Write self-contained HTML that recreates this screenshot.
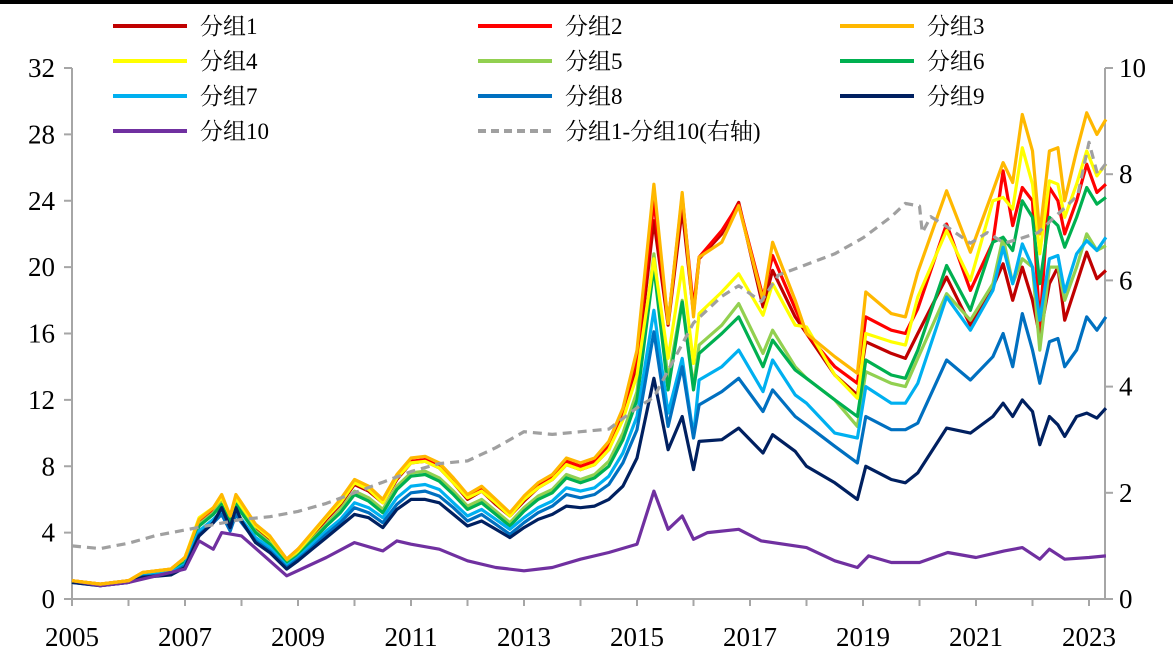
<!DOCTYPE html>
<html><head><meta charset="utf-8">
<style>
html,body{margin:0;padding:0;background:#fff;}
svg{display:block;}
text{font-family:"Liberation Serif","Noto Serif CJK SC",serif;}
</style></head>
<body>
<svg id="chart" width="1173" height="657" viewBox="0 0 1173 657" xmlns="http://www.w3.org/2000/svg">
<rect x="0" y="0" width="1173" height="4" fill="#000"/>
<g id="axes"></g>
<g id="series"></g>
<g id="legend"></g>
</svg>
<script>
const dates = [2005,2005.5,2006,2006.25,2006.75,2007,2007.25,2007.5,2007.65,2007.8,2007.9,2008,2008.25,2008.5,2008.8,2009,2009.25,2009.5,2009.75,2010,2010.25,2010.5,2010.75,2011,2011.25,2011.5,2011.75,2012,2012.25,2012.5,2012.75,2013,2013.25,2013.5,2013.75,2014,2014.25,2014.5,2014.75,2015,2015.3,2015.55,2015.8,2016,2016.1,2016.5,2016.8,2017.23,2017.4,2017.8,2018,2018.5,2018.9,2019.05,2019.5,2019.75,2019.97,2020.48,2020.9,2021.3,2021.48,2021.65,2021.82,2022,2022.13,2022.3,2022.45,2022.57,2022.78,2022.96,2023.14,2023.3];
const group1 = [1.1,0.9,1.1,1.5,1.7,2.4,4.6,5.3,6.0,4.8,6.0,5.5,4.3,3.6,2.3,2.9,3.8,4.8,5.7,6.9,6.5,5.8,7.2,8.2,8.3,7.9,7.0,6.0,6.5,5.7,5.0,5.9,6.7,7.2,8.1,7.8,8.1,9.0,11,14,22.8,16.5,23.5,17.2,20.5,22,23.9,17.6,19.8,17,16,13.5,12.3,15.5,14.8,14.5,16,19.4,16.5,18.8,20.2,18,20,18,15.8,19,20,16.8,19,20.9,19.3,19.8];
const group2 = [1.1,0.9,1.1,1.6,1.8,2.5,4.7,5.4,6.2,4.9,6.2,5.7,4.4,3.7,2.4,3.0,3.9,4.9,5.9,7.0,6.7,5.9,7.4,8.3,8.4,8.0,7.2,6.2,6.7,5.9,5.1,6.1,6.9,7.4,8.3,8.0,8.3,9.3,11.3,14.5,24,16.6,24.3,17.5,20.6,22.2,23.8,18.2,20.7,17.5,16,14,13,17,16.2,16,17.5,22.6,18.6,21.5,25.8,22.5,24.8,24,16.4,24.8,24,22,24,26.2,24.5,25];
const group3 = [1.1,0.9,1.1,1.6,1.8,2.5,4.8,5.5,6.3,5.0,6.3,5.8,4.5,3.8,2.4,3.0,4.0,5.0,6.0,7.2,6.8,6.0,7.5,8.5,8.6,8.2,7.3,6.3,6.8,6.0,5.2,6.2,7.0,7.5,8.5,8.2,8.5,9.5,11.5,15,25,16.6,24.5,17,20.6,21.5,23.7,18,21.5,18,16,14.6,13.6,18.5,17.2,17,19.7,24.6,20.9,24.6,26.3,25.1,29.2,27,22,27,27.2,24,27,29.3,28,28.9];
const group4 = [1.1,0.9,1.1,1.6,1.8,2.5,4.9,5.5,6.1,5.0,6.1,5.6,4.4,3.7,2.4,2.9,3.9,4.9,5.8,7.0,6.6,5.8,7.3,8.2,8.3,7.9,7.0,6.1,6.5,5.8,5.0,6.0,6.7,7.2,8.1,7.8,8.1,9.0,10.8,13.5,20.5,14.5,20,14.2,17.2,18.5,19.6,17.1,19,16.5,16.4,13.5,12.1,16,15.5,15.3,18.2,22.2,19.2,24,24.2,23.5,27.2,25,20.8,25.2,25,23,25,27,25.5,26.2];
const group5 = [1.05,0.85,1.05,1.5,1.7,2.3,4.5,5.2,5.8,4.7,5.8,5.3,4.1,3.4,2.2,2.7,3.6,4.5,5.4,6.5,6.1,5.4,6.8,7.6,7.7,7.3,6.5,5.6,6.0,5.3,4.6,5.5,6.2,6.6,7.5,7.2,7.5,8.3,10.0,12.5,20.8,13.2,18,12.8,15.3,16.5,17.8,14.8,16.2,14,13.3,12,10.4,13.7,13,12.8,14.5,18.4,16.8,19,21.8,19,20.5,20,15,20,20,18,20,22,21,21.3];
const group6 = [1.05,0.85,1.05,1.5,1.7,2.2,4.4,5.1,5.7,4.6,5.7,5.2,4.0,3.3,2.1,2.6,3.5,4.4,5.2,6.3,5.9,5.2,6.6,7.4,7.5,7.1,6.3,5.4,5.8,5.1,4.4,5.3,6.0,6.4,7.3,7.0,7.3,8.0,9.6,12,20,12.6,17.9,12.6,14.8,16,17,14,15.6,13.8,13.3,12,11,14.4,13.5,13.3,15,20.1,17.4,21.5,21.8,21,24,23,19,23,22.5,21.2,23,24.8,23.8,24.2];
const group7 = [1.0,0.85,1.0,1.4,1.6,2.1,4.1,4.8,5.3,4.3,5.3,4.8,3.7,3.1,2.0,2.5,3.3,4.1,4.8,5.8,5.5,4.9,6.1,6.8,6.9,6.6,5.8,5.0,5.4,4.8,4.2,4.9,5.5,5.9,6.7,6.5,6.7,7.4,8.8,11,17.4,11.2,14.5,9.8,13.2,14,15,12.5,14.4,12.3,11.8,10,9.7,12.8,11.8,11.8,13,18.2,16.2,18.6,21.2,19,21.4,20,16.8,20.5,20.7,18.5,20.8,21.6,21,21.8];
const group8 = [1.0,0.8,1.0,1.35,1.5,2.0,3.9,4.6,5.1,4.1,5.1,4.6,3.5,2.9,1.9,2.4,3.1,3.9,4.6,5.5,5.2,4.6,5.7,6.4,6.5,6.2,5.5,4.7,5.1,4.5,3.9,4.6,5.2,5.6,6.3,6.1,6.3,6.9,8.2,10.2,16.1,10.4,14,9.7,11.7,12.5,13.3,11.3,12.6,11,10.5,9.2,8.2,11,10.2,10.2,10.6,14.4,13.2,14.6,16,14,17.2,15,13,15.5,15.7,14,15,17,16.2,17];
const group9 = [1.0,0.8,1.0,1.3,1.45,1.9,3.8,4.6,5.5,4.3,5.5,4.7,3.4,2.8,1.8,2.3,3.0,3.7,4.4,5.1,4.9,4.3,5.4,6.0,6.0,5.8,5.1,4.4,4.7,4.2,3.7,4.3,4.8,5.1,5.6,5.5,5.6,6.0,6.8,8.5,13.3,9,11,7.8,9.5,9.6,10.3,8.8,9.9,8.9,8,7,6,8,7.2,7,7.6,10.3,10,11,11.8,11,12,11.3,9.3,11,10.5,9.8,11,11.2,10.9,11.5];
const dates10 = [2005,2005.5,2006,2007,2007.25,2007.5,2007.65,2008,2008.5,2008.8,2009.5,2010,2010.5,2010.75,2011,2011.5,2012,2012.5,2013,2013.5,2014,2014.5,2015,2015.3,2015.55,2015.8,2016,2016.25,2016.8,2017.2,2018,2018.5,2018.9,2019.1,2019.5,2020,2020.5,2021,2021.5,2021.82,2022.13,2022.3,2022.57,2023,2023.3];
const group10 = [1.1,0.8,1.0,1.8,3.5,3.0,4.0,3.8,2.3,1.4,2.5,3.4,2.9,3.5,3.3,3.0,2.3,1.9,1.7,1.9,2.4,2.8,3.3,6.5,4.2,5.0,3.6,4.0,4.2,3.5,3.1,2.3,1.9,2.6,2.2,2.2,2.8,2.5,2.9,3.1,2.4,3.0,2.4,2.5,2.6];
const datesGap = [2005,2005.5,2006,2006.5,2007,2007.5,2008,2008.5,2009,2009.5,2010,2010.5,2011,2011.5,2012,2012.5,2013,2013.5,2014,2014.5,2015,2015.3,2015.8,2016,2016.5,2016.8,2017.2,2017.5,2018,2018.5,2019,2019.5,2019.75,2020,2020.05,2020.2,2020.5,2020.9,2021.2,2021.5,2021.82,2022.1,2022.5,2022.8,2023,2023.15,2023.3];
const gapRight = [1.0,0.95,1.05,1.2,1.3,1.4,1.5,1.55,1.65,1.8,2.0,2.2,2.4,2.55,2.6,2.85,3.15,3.1,3.15,3.2,3.6,3.8,4.8,5.2,5.7,5.9,5.6,6.1,6.3,6.5,6.8,7.2,7.45,7.4,6.9,7.2,7.0,6.7,6.9,6.7,6.8,6.9,7.3,7.6,8.6,8.0,8.2];
const leftTicks = [0,4,8,12,16,20,24,28,32];
const rightTicks = [0,2,4,6,8,10];
const yearTicks = [2005,2007,2009,2011,2013,2015,2017,2019,2021,2023];

const X0=72, X1=1105, Y0=599, Y1=68;
function xScale(t){return X0+(t-2005)*56.5;}
function yLeft(v){return Y0-(v/32)*(Y0-Y1);}
function yRight(v){return Y0-(v/10)*(Y0-Y1);}
const NS="http://www.w3.org/2000/svg";
function mk(tag,attrs,parent){const e=document.createElementNS(NS,tag);for(const k in attrs)e.setAttribute(k,attrs[k]);parent.appendChild(e);return e;}

const axes=document.getElementById('axes');
const AX="#a6a6a6";
let l;
l=mk('line',{x1:X0,y1:Y1,x2:X0,y2:Y0,stroke:AX,'stroke-width':2},axes);


l=mk('line',{x1:X1,y1:Y1,x2:X1,y2:Y0,stroke:AX,'stroke-width':2},axes);


l=mk('line',{x1:X0,y1:Y0,x2:X1,y2:Y0,stroke:AX,'stroke-width':2},axes);


leftTicks.forEach(v=>{
  const y=yLeft(v);
  const t=mk('line',{x1:X0-8,y1:y,x2:X0,y2:y,stroke:AX,'stroke-width':2},axes);
  
  
  const tx=mk('text',{x:55,y:y+9,'text-anchor':'end','font-size':27,fill:'#000'},axes);
  tx.textContent=v;
  
  
});
rightTicks.forEach(v=>{
  const y=yRight(v);
  const t=mk('line',{x1:X1,y1:y,x2:X1+8,y2:y,stroke:AX,'stroke-width':2},axes);
  
  
  const tx=mk('text',{x:1119,y:y+9,'text-anchor':'start','font-size':27,fill:'#000'},axes);
  tx.textContent=v;
  
  
});
for(let yr=2005;yr<=2023;yr++){
  const x=xScale(yr);
  const t=mk('line',{x1:x,y1:Y0,x2:x,y2:Y0+7,stroke:AX,'stroke-width':2},axes);
  
  
}
yearTicks.forEach(yr=>{
  const tx=mk('text',{x:xScale(yr),y:646,'text-anchor':'middle','font-size':27,fill:'#000'},axes);
  tx.textContent=yr;
  
  
});

const seriesG=document.getElementById('series');
const defs=[
 {name:'分组1',d:dates,v:group1,c:'#c00000',ax:yLeft},
 {name:'分组2',d:dates,v:group2,c:'#ff0000',ax:yLeft},
 {name:'分组3',d:dates,v:group3,c:'#ffb800',ax:yLeft},
 {name:'分组4',d:dates,v:group4,c:'#ffff00',ax:yLeft},
 {name:'分组5',d:dates,v:group5,c:'#92d050',ax:yLeft},
 {name:'分组6',d:dates,v:group6,c:'#00b050',ax:yLeft},
 {name:'分组7',d:dates,v:group7,c:'#00b0f0',ax:yLeft},
 {name:'分组8',d:dates,v:group8,c:'#0070c0',ax:yLeft},
 {name:'分组9',d:dates,v:group9,c:'#002060',ax:yLeft},
 {name:'分组10',d:dates10,v:group10,c:'#7030a0',ax:yLeft},
 {name:'分组1-分组10(右轴)',d:datesGap,v:gapRight,c:'#a0a0a0',ax:yRight,dash:'9,6'}
];
const drawOrder=[0,1,4,5,6,7,8,9,3,2,10];
drawOrder.forEach(i=>{
  const s=defs[i];
  const pts=s.v.map((v,j)=>xScale(s.d[j]).toFixed(1)+','+s.ax(v).toFixed(1)).join(' ');
  const p=mk('polyline',{points:pts,fill:'none',stroke:s.c,'stroke-width':3.2,'stroke-linejoin':'round'},seriesG);
  if(s.dash)p.setAttribute('stroke-dasharray',s.dash);
  
  
});

const leg=document.getElementById('legend');
const colX=[113,478,840], rowY=[26,61,96,131];
defs.forEach((s,i)=>{
  const cx=colX[i%3], cy=rowY[Math.floor(i/3)];
  const ln=mk('line',{x1:cx,y1:cy,x2:cx+74,y2:cy,stroke:s.c,'stroke-width':4},leg);
  if(s.dash)ln.setAttribute('stroke-dasharray','8,5');
  
  
  const tx=mk('text',{x:cx+87,y:cy+8,'font-size':23,fill:'#000'},leg);
  tx.textContent=s.name;
  
  
});
</script>
</body></html>
